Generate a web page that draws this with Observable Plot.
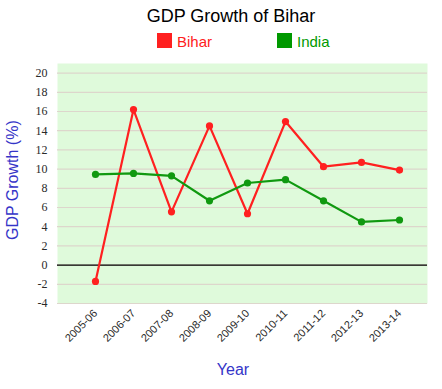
<!DOCTYPE html>
<html>
<head>
<meta charset="utf-8">
<script src="https://cdn.jsdelivr.net/npm/d3@7"></script>
<script src="https://cdn.jsdelivr.net/npm/@observablehq/plot@0.6"></script>
<style>
  html, body { margin: 0; padding: 0; background: #fff; }
  #wrap { position: relative; width: 442px; height: 389px; font-family: "Liberation Sans", Arial, sans-serif; }
  #wrap svg { position: absolute; left: 0; top: 0; }
  .abs { position: absolute; white-space: nowrap; }
  #title { left: 0; width: 462px; top: 6px; text-align: center; font-size: 18px; color: #000; }
  .sw { position: absolute; width: 15px; height: 15px; }
  .lt { position: absolute; font-size: 15px; line-height: 15px; }
  #ylab { font-size: 16px; line-height: 18px; color: #3535c8; transform: rotate(-90deg); transform-origin: center; }
  #xlab { font-size: 16px; color: #3535c8; }
</style>
</head>
<body>
<div id="wrap"></div>
<script>
const years = ["2005-06","2006-07","2007-08","2008-09","2009-10","2010-11","2011-12","2012-13","2013-14"];
const bihar = [-1.7, 16.2, 5.55, 14.5, 5.35, 14.95, 10.25, 10.7, 9.9];
const india = [9.45, 9.55, 9.3, 6.7, 8.55, 8.9, 6.7, 4.5, 4.7];
const yTicks = [-4,-2,0,2,4,6,8,10,12,14,16,18,20];
const seriesNames = ["Bihar", "India"];
const seriesColors = ["#ff2020", "#109910"];

const data = [];
years.forEach((y, i) => {
  data.push({year: y, value: bihar[i], series: "Bihar"});
  data.push({year: y, value: india[i], series: "India"});
});

const serif = "'Liberation Serif', 'Times New Roman', serif";
const sans = "'Liberation Sans', Arial, sans-serif";

const chart = Plot.plot({
  width: 442,
  height: 389,
  marginTop: 63,
  marginBottom: 86,
  marginLeft: 57,
  marginRight: 15,
  style: {background: "transparent", overflow: "visible"},
  x: {type: "point", domain: years, range: [95, 399], padding: 0},
  y: {domain: [-4, 21]},
  color: {domain: seriesNames, range: seriesColors},
  marks: [
    Plot.frame({fill: "#dffadb", stroke: null}),
    Plot.ruleY(yTicks, {stroke: "#ddd6cc", strokeWidth: 1.2}),
    Plot.ruleY([0], {stroke: "#000", strokeWidth: 1.3}),
    Plot.axisY({ticks: yTicks, tickFormat: d => String(d), tickSize: 0, tickPadding: 10, fontFamily: serif, fontSize: 12, color: "#2a2a2a", label: null}),
    Plot.axisX({tickSize: 0, tickPadding: 8, tickRotate: -45, fontFamily: sans, fontSize: 11, color: "#2a2a2a", label: null}),
    Plot.line(data, {x: "year", y: "value", z: "series", stroke: "series", strokeWidth: 2.2}),
    Plot.dot(data, {x: "year", y: "value", fill: "series", r: 3.6})
  ]
});

const wrap = document.getElementById("wrap");
wrap.appendChild(chart);
d3.select(chart).selectAll('g[aria-label="y-axis tick label"]')
  .attr("font-family", serif).style("font-family", serif);
d3.select(chart).selectAll('g[aria-label="x-axis tick label"]')
  .attr("font-family", sans).style("font-family", sans);

function add(html) { wrap.insertAdjacentHTML("beforeend", html); }
add(`<div id="title" class="abs">GDP Growth of Bihar</div>`);
add(`<div class="sw" style="left:157px;top:33px;background:#ff2020"></div>`);
add(`<div class="lt abs" style="left:177px;top:34px;color:#ff2020">${seriesNames[0]}</div>`);
add(`<div class="sw" style="left:277px;top:33px;background:#009900"></div>`);
add(`<div class="lt abs" style="left:297px;top:34px;color:#009900">${seriesNames[1]}</div>`);
add(`<div id="ylab" class="abs" style="left:-43px;top:175px;width:112px;text-align:center">GDP Growth (%)</div>`);
add(`<div id="xlab" class="abs" style="left:203px;top:361px;width:60px;text-align:center">Year</div>`);
</script>
</body>
</html>
